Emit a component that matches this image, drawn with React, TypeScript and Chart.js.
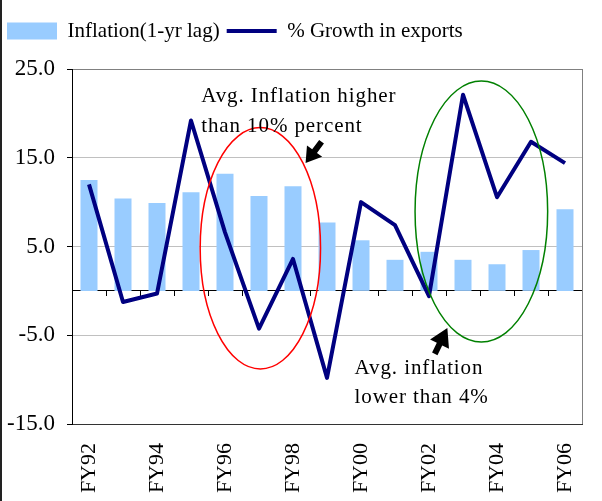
import React, { useEffect, useRef } from 'react';
import { Chart, registerables } from 'chart.js';

Chart.register(...registerables);

const categories = ['FY92', 'FY93', 'FY94', 'FY95', 'FY96', 'FY97', 'FY98', 'FY99', 'FY00', 'FY01', 'FY02', 'FY03', 'FY04', 'FY05', 'FY06'];
const inflationLagged = [12.5, 10.4, 9.9, 11.1, 13.2, 10.7, 11.8, 7.7, 5.7, 3.5, 4.4, 3.5, 3.0, 4.6, 9.2];
const exportGrowth = [12.0, -1.25, -0.3, 19.2, 6.6, -4.25, 3.6, -9.8, 10.0, 7.4, -0.6, 22.1, 10.55, 16.8, 14.4];
const yTickValues = [-15, -5, 5, 15, 25];
const seriesLabels = ['Inflation(1-yr lag)', '% Growth in exports'];
const noteHigh = ['Avg. Inflation higher', 'than 10% percent'];
const noteLow = ['Avg. inflation', 'lower than 4%'];

// annotation geometry in data coordinates (category index, value)
const highEllipse = { cx: 5.04, cy: 4.8, rx: 1.77, ry: 13.6, color: '#ff0000' };
const lowEllipse = { cx: 11.54, cy: 8.94, rx: 1.95, ry: 14.7, color: '#008000' };
const highArrow = { tip: [6.37, 14.4], tail: [6.84, 16.8], head: 15, headW: 19, stem: 6 };
const lowArrow = { tip: [10.54, -4.17], tail: [10.17, -7.1], head: 18, headW: 21, stem: 6 };
const highNoteAt = [3.3, 21.3];
const lowNoteAt = [7.81, -9.38];

const FONT = '"Liberation Serif", "Times New Roman", serif';
const BAR_COLOR = '#99ccff';
const LINE_COLOR = '#000080';

function drawArrow(ctx: CanvasRenderingContext2D, tx: number, ty: number, sx: number, sy: number, headLen: number, headW: number, stemW: number) {
  const dx = tx - sx;
  const dy = ty - sy;
  const len = Math.hypot(dx, dy);
  const ux = dx / len;
  const uy = dy / len;
  const nx = -uy;
  const ny = ux;
  const bx = tx - ux * headLen;
  const by = ty - uy * headLen;
  ctx.beginPath();
  ctx.moveTo(sx - nx * stemW / 2, sy - ny * stemW / 2);
  ctx.lineTo(bx - nx * stemW / 2, by - ny * stemW / 2);
  ctx.lineTo(bx - nx * headW / 2, by - ny * headW / 2);
  ctx.lineTo(tx, ty);
  ctx.lineTo(bx + nx * headW / 2, by + ny * headW / 2);
  ctx.lineTo(bx + nx * stemW / 2, by + ny * stemW / 2);
  ctx.lineTo(sx + nx * stemW / 2, sy + ny * stemW / 2);
  ctx.closePath();
  ctx.fill();
}

const annotationPlugin = {
  id: 'annotations',
  afterDatasetsDraw(chart: any) {
    const ctx: CanvasRenderingContext2D = chart.ctx;
    const xs = chart.scales.x;
    const ys = chart.scales.y;
    const px = (v: number) => xs.getPixelForValue(v);
    const py = (v: number) => ys.getPixelForValue(v);
    ctx.save();
    [highEllipse, lowEllipse].forEach((e) => {
      const cx = px(e.cx);
      const cy = py(e.cy);
      const rx = Math.abs(px(e.cx + e.rx) - cx);
      const ry = Math.abs(py(e.cy + e.ry) - cy);
      ctx.beginPath();
      ctx.ellipse(cx, cy, rx, ry, 0, 0, Math.PI * 2);
      ctx.strokeStyle = e.color;
      ctx.lineWidth = 1.5;
      ctx.stroke();
    });
    ctx.fillStyle = '#000';
    [highArrow, lowArrow].forEach((a) => {
      drawArrow(ctx, px(a.tip[0]), py(a.tip[1]), px(a.tail[0]), py(a.tail[1]), a.head, a.headW, a.stem);
    });
    ctx.font = `21px ${FONT}`;
    (ctx as any).letterSpacing = '0.9px';
    ctx.textBaseline = 'alphabetic';
    ctx.textAlign = 'left';
    ctx.fillText(noteHigh[0], px(highNoteAt[0]), py(highNoteAt[1]));
    ctx.fillText(noteHigh[1], px(highNoteAt[0]), py(highNoteAt[1]) + 30.5);
    ctx.fillText(noteLow[0], px(lowNoteAt[0]), py(lowNoteAt[1]));
    ctx.fillText(noteLow[1], px(lowNoteAt[0]), py(lowNoteAt[1]) + 29);
    ctx.restore();
  },
};

const frameAndLegendPlugin = {
  id: 'frameAndLegend',
  beforeLayout(chart: any) {
    const lg = chart.legend;
    if (lg && !lg.__patched) {
      const orig = lg.fit.bind(lg);
      lg.fit = () => {
        orig();
        lg.height = 55.5;
      };
      lg.__patched = true;
    }
  },
  beforeDatasetsDraw(chart: any) {
    const { ctx, chartArea } = chart;
    ctx.save();
    ctx.strokeStyle = '#808080';
    ctx.lineWidth = 1;
    ctx.beginPath();
    const x = Math.round(chartArea.right) + 0.5;
    ctx.moveTo(x, chartArea.top);
    ctx.lineTo(x, chartArea.bottom);
    ctx.stroke();
    ctx.restore();
  },
};

export default function App() {
  const canvasRef = useRef<HTMLCanvasElement | null>(null);

  useEffect(() => {
    if (!canvasRef.current) return;
    const chart = new Chart(canvasRef.current, {
      type: 'bar',
      data: {
        labels: categories,
        datasets: [
          {
            type: 'bar',
            label: seriesLabels[0],
            data: inflationLagged,
            backgroundColor: BAR_COLOR,
            borderWidth: 0,
            categoryPercentage: 1,
            barPercentage: 0.5,
            order: 2,
          } as any,
          {
            type: 'line',
            label: seriesLabels[1],
            data: exportGrowth,
            borderColor: LINE_COLOR,
            backgroundColor: LINE_COLOR,
            borderWidth: 4,
            pointRadius: 0,
            pointHoverRadius: 0,
            tension: 0,
            fill: false,
            borderJoinStyle: 'round',
            borderCapStyle: 'butt',
            order: 1,
          } as any,
        ],
      },
      options: {
        responsive: false,
        animation: false,
        events: [],
        layout: { padding: { left: 0, right: 20, top: 13.5, bottom: 0 } },
        plugins: {
          tooltip: { enabled: false },
          title: { display: false },
          legend: {
            display: true,
            position: 'top',
            align: 'start',
            labels: {
              usePointStyle: true,
              pointStyleWidth: 50,
              boxHeight: 17,
              padding: 7,
              color: '#000',
              font: { family: FONT, size: 21 },
              generateLabels: (ch: any) =>
                ch.data.datasets.map((ds: any, i: number) => ({
                  text: ds.label,
                  fillStyle: i === 0 ? BAR_COLOR : LINE_COLOR,
                  strokeStyle: i === 0 ? BAR_COLOR : LINE_COLOR,
                  lineWidth: i === 0 ? 0 : 4,
                  pointStyle: i === 0 ? 'rect' : 'line',
                  lineCap: 'butt',
                  hidden: false,
                  datasetIndex: i,
                  fontColor: '#000',
                })),
            },
          },
        },
        scales: {
          x: {
            type: 'category',
            position: 'bottom',
            offset: true,
            grid: { display: true, drawOnChartArea: false, drawTicks: false, offset: true },
            border: { display: true, color: '#333333', width: 1 },
            ticks: {
              autoSkip: false,
              maxRotation: 90,
              minRotation: 90,
              padding: 19,
              color: '#000',
              font: { family: FONT, size: 22 },
              callback: (_v: any, i: number) => (i % 2 === 0 ? categories[i] : ''),
            },
            afterFit: (scale: any) => {
              scale.height = 77;
              scale.paddingLeft = 0;
              scale.paddingRight = 0;
            },
          },
          xZero: {
            type: 'category',
            axis: 'x',
            position: { y: 0 },
            offset: true,
            grid: {
              display: true,
              drawOnChartArea: false,
              drawTicks: true,
              tickLength: 5,
              offset: true,
              tickColor: '#000',
              color: '#000',
            },
            border: { display: true, color: '#000', width: 1 },
            ticks: { display: false },
            afterFit: (scale: any) => {
              scale.paddingLeft = 0;
              scale.paddingRight = 0;
            },
          },
          y: {
            type: 'linear',
            min: -15,
            max: 25,
            afterBuildTicks: (scale: any) => {
              scale.ticks = yTickValues.map((v) => ({ value: v }));
            },
            afterFit: (scale: any) => {
              scale.width = 72;
            },
            ticks: {
              padding: 12,
              color: '#000',
              font: { family: FONT, size: 23 },
              callback: (v: any) => Number(v).toFixed(1),
            },
            grid: {
              drawTicks: true,
              tickLength: 5,
              tickColor: '#000',
              lineWidth: 1,
              color: (c: any) => {
                const v = c.tick ? c.tick.value : null;
                if (v === 25) return '#808080';
                if (v === -15) return 'rgba(0,0,0,0)';
                return '#c0c0c0';
              },
            },
            border: { display: true, color: '#000', width: 1 },
          },
        },
      } as any,
      plugins: [frameAndLegendPlugin, annotationPlugin],
    });
    return () => chart.destroy();
  }, []);

  return (
    <div style={{ position: 'absolute', left: 0, top: 0, width: 602, height: 501, background: '#fff' }}>
      <canvas ref={canvasRef} width={602} height={501} style={{ display: 'block', width: 602, height: 501 }} />
      <div style={{ position: 'absolute', left: 0, top: 0, width: 2, height: 501, background: '#222' }} />
    </div>
  );
}
